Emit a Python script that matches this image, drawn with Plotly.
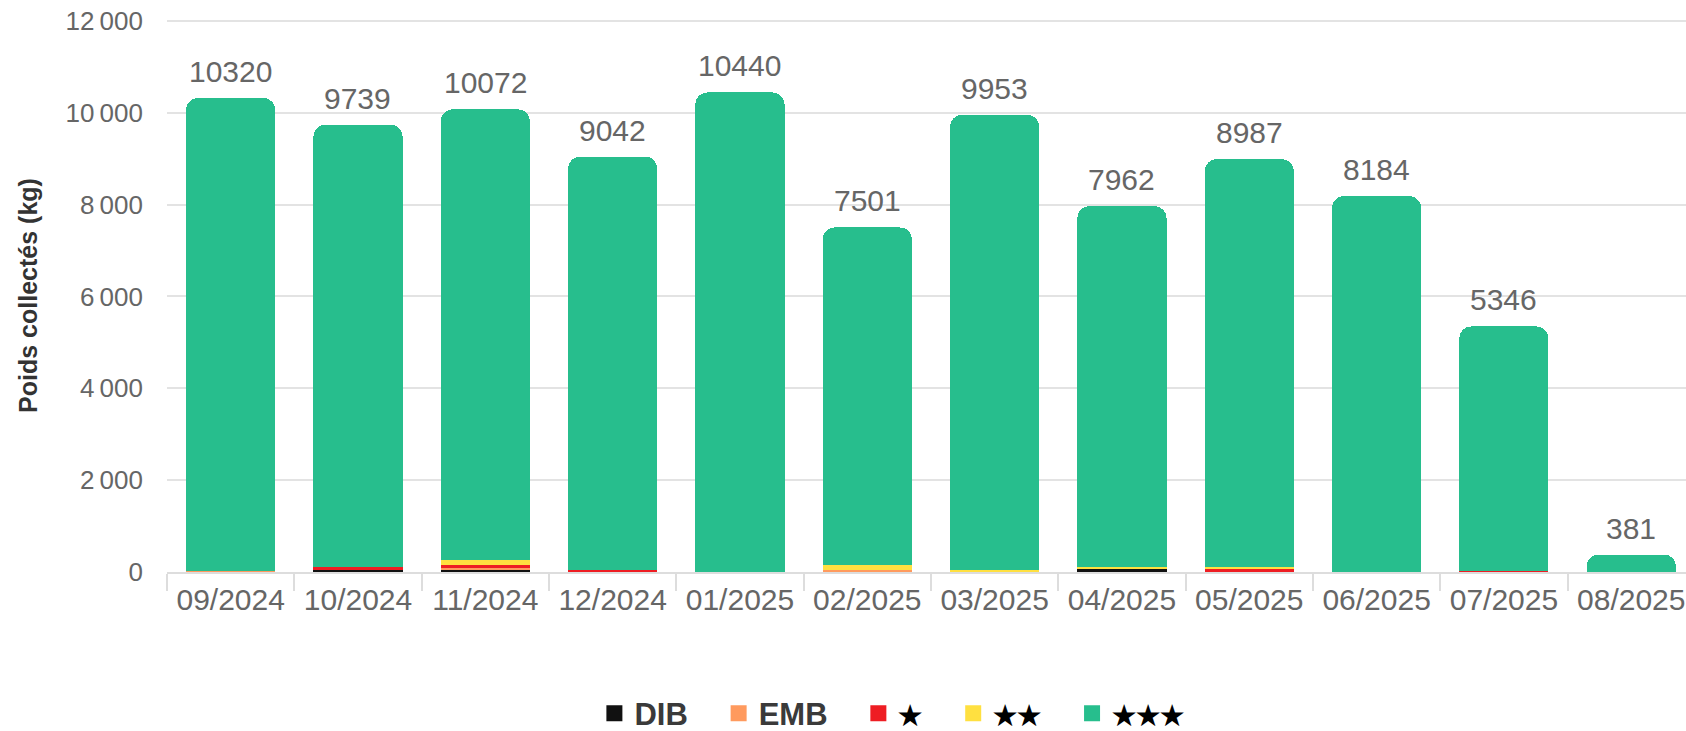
import plotly.graph_objects as go

months = ["09/2024", "10/2024", "11/2024", "12/2024", "01/2025", "02/2025",
          "03/2025", "04/2025", "05/2025", "06/2025", "07/2025", "08/2025"]
totals = [10320, 9739, 10072, 9042, 10440, 7501, 9953, 7962, 8987, 8184, 5346, 381]

dib = [0, 50, 60, 0, 0, 10, 0, 60, 0, 10, 0, 0]
emb = [30, 0, 20, 0, 0, 40, 0, 0, 10, 0, 10, 0]
star1 = [0, 60, 70, 40, 0, 0, 0, 0, 50, 0, 20, 0]
star2 = [0, 0, 110, 0, 0, 110, 50, 50, 50, 0, 0, 0]
star3 = [t - a - b - c - d for t, a, b, c, d in zip(totals, dib, emb, star1, star2)]

series_names = ["DIB", "EMB", "★", "★★", "★★★"]
series_values = [dib, emb, star1, star2, star3]
series_colors = ["#111111", "#FF9A5E", "#EE1D23", "#FFE040", "#27BE8D"]

y_tickvals = [0, 2000, 4000, 6000, 8000, 10000, 12000]
y_ticktext = ["0", "2\u2009000", "4\u2009000", "6\u2009000", "8\u2009000", "10\u2009000", "12\u2009000"]

FONT = "Liberation Sans, Arial, sans-serif"


def legend_label(name, last):
    pad = "" if last else "\u00a0\u00a0\u00a0"
    if "★" in name:
        return "<span style='font-size:27px;color:#000000'>" + name + "</span>" + pad
    return name + pad


fig = go.Figure()
for i, (name, vals, col) in enumerate(zip(series_names, series_values, series_colors)):
    fig.add_trace(go.Bar(
        x=months, y=vals, name=name,
        marker=dict(color=col, line=dict(width=0)),
        hoverinfo="y+name", showlegend=False,
    ))
    # legend entry with a larger square swatch
    fig.add_trace(go.Scatter(
        x=[None], y=[None], mode="markers",
        name=legend_label(name, i == len(series_names) - 1),
        marker=dict(symbol="square", size=30, color=col),
        showlegend=True, hoverinfo="skip",
    ))

for m, t in zip(months, totals):
    fig.add_annotation(
        x=m, y=t, text=str(t), showarrow=False,
        yanchor="bottom", yshift=8,
        font=dict(family=FONT, size=30, color="#666666"),
    )

fig.update_layout(
    width=1686, height=731,
    barmode="stack", bargap=0.3, barcornerradius=12,
    plot_bgcolor="white", paper_bgcolor="white",
    margin=dict(l=167, r=0, t=19, b=159, autoexpand=False),
    font=dict(family=FONT, color="#666666"),
    legend=dict(
        orientation="h", xref="container", x=0.529, xanchor="center",
        yref="paper", y=-0.256, yanchor="middle",
        font=dict(family=FONT, size=31, color="#3a3a3a", weight="bold"),
        itemwidth=30, traceorder="normal", itemsizing="trace",
    ),
    showlegend=True,
)

fig.update_xaxes(
    range=[-0.5, 11.43], automargin=False,
    tickfont=dict(family=FONT, size=30, color="#666666"),
    ticks="outside", tickson="boundaries", ticklen=17, tickcolor="#dddddd", tickwidth=2,
    showgrid=False, showline=True, linecolor="#dddddd", linewidth=2,
    fixedrange=True,
)
fig.update_yaxes(
    range=[0, 12040], automargin=False, ticklabeloverflow="allow",
    tickvals=y_tickvals, ticktext=y_ticktext,
    tickfont=dict(family=FONT, size=26, color="#666666"),
    showgrid=True, gridcolor="#e3e3e3", gridwidth=1.5,
    zeroline=False, showline=False, ticks="", ticklabelstandoff=23,
    title=dict(text="Poids collectés (kg)", standoff=20,
               font=dict(family=FONT, size=25, color="#333333", weight="bold")),
)

fig.write_html("out.html", config={"displayModeBar": False},
               post_script="document.body.style.margin='0';")
